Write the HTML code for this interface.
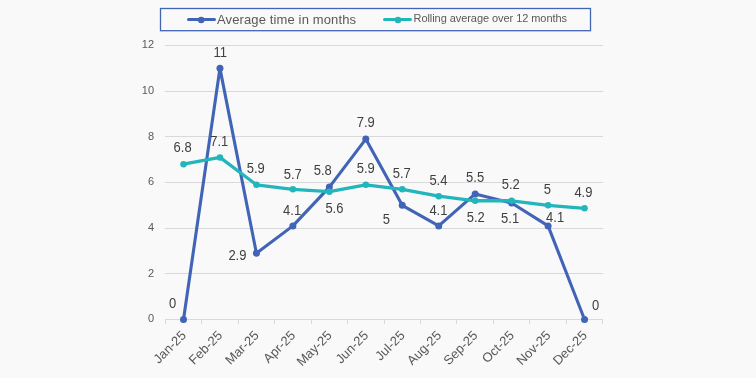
<!DOCTYPE html>
<html><head><meta charset="utf-8"><style>
html,body{margin:0;padding:0;background:#F9F9F9;}
body{width:756px;height:378px;overflow:hidden;}
svg{display:block;will-change:transform;font-family:"Liberation Sans",sans-serif;}
</style></head><body>
<svg width="756" height="378" viewBox="0 0 756 378">
<rect x="0" y="0" width="756" height="378" fill="#F9F9F9"/>
<line x1="165" y1="273.50" x2="603" y2="273.50" stroke="#D9D9D9" stroke-width="1"/>
<line x1="165" y1="228.50" x2="603" y2="228.50" stroke="#D9D9D9" stroke-width="1"/>
<line x1="165" y1="182.50" x2="603" y2="182.50" stroke="#D9D9D9" stroke-width="1"/>
<line x1="165" y1="136.50" x2="603" y2="136.50" stroke="#D9D9D9" stroke-width="1"/>
<line x1="165" y1="91.50" x2="603" y2="91.50" stroke="#D9D9D9" stroke-width="1"/>
<line x1="165" y1="45.50" x2="603" y2="45.50" stroke="#D9D9D9" stroke-width="1"/>
<line x1="165" y1="319.5" x2="603" y2="319.5" stroke="#D9D9D9" stroke-width="1"/>
<line x1="165.50" y1="319.5" x2="165.50" y2="324.0" stroke="#D9D9D9" stroke-width="1"/>
<line x1="201.50" y1="319.5" x2="201.50" y2="324.0" stroke="#D9D9D9" stroke-width="1"/>
<line x1="238.50" y1="319.5" x2="238.50" y2="324.0" stroke="#D9D9D9" stroke-width="1"/>
<line x1="274.50" y1="319.5" x2="274.50" y2="324.0" stroke="#D9D9D9" stroke-width="1"/>
<line x1="311.50" y1="319.5" x2="311.50" y2="324.0" stroke="#D9D9D9" stroke-width="1"/>
<line x1="347.50" y1="319.5" x2="347.50" y2="324.0" stroke="#D9D9D9" stroke-width="1"/>
<line x1="384.50" y1="319.5" x2="384.50" y2="324.0" stroke="#D9D9D9" stroke-width="1"/>
<line x1="420.50" y1="319.5" x2="420.50" y2="324.0" stroke="#D9D9D9" stroke-width="1"/>
<line x1="456.50" y1="319.5" x2="456.50" y2="324.0" stroke="#D9D9D9" stroke-width="1"/>
<line x1="493.50" y1="319.5" x2="493.50" y2="324.0" stroke="#D9D9D9" stroke-width="1"/>
<line x1="529.50" y1="319.5" x2="529.50" y2="324.0" stroke="#D9D9D9" stroke-width="1"/>
<line x1="566.50" y1="319.5" x2="566.50" y2="324.0" stroke="#D9D9D9" stroke-width="1"/>
<line x1="602.50" y1="319.5" x2="602.50" y2="324.0" stroke="#D9D9D9" stroke-width="1"/>
<text x="154.1" y="322.20" text-anchor="end" font-size="11" fill="#595959">0</text>
<text x="154.1" y="276.53" text-anchor="end" font-size="11" fill="#595959">2</text>
<text x="154.1" y="230.87" text-anchor="end" font-size="11" fill="#595959">4</text>
<text x="154.1" y="185.20" text-anchor="end" font-size="11" fill="#595959">6</text>
<text x="154.1" y="139.53" text-anchor="end" font-size="11" fill="#595959">8</text>
<text x="154.1" y="93.87" text-anchor="end" font-size="11" fill="#595959">10</text>
<text x="154.1" y="48.20" text-anchor="end" font-size="11" fill="#595959">12</text>
<text x="186.80" y="336.20" text-anchor="end" font-size="13" fill="#595959" transform="rotate(-45 186.80 336.20)">Jan-25</text>
<text x="223.26" y="336.20" text-anchor="end" font-size="13" fill="#595959" transform="rotate(-45 223.26 336.20)">Feb-25</text>
<text x="259.72" y="336.20" text-anchor="end" font-size="13" fill="#595959" transform="rotate(-45 259.72 336.20)">Mar-25</text>
<text x="296.18" y="336.20" text-anchor="end" font-size="13" fill="#595959" transform="rotate(-45 296.18 336.20)">Apr-25</text>
<text x="332.64" y="336.20" text-anchor="end" font-size="13" fill="#595959" transform="rotate(-45 332.64 336.20)">May-25</text>
<text x="369.10" y="336.20" text-anchor="end" font-size="13" fill="#595959" transform="rotate(-45 369.10 336.20)">Jun-25</text>
<text x="405.56" y="336.20" text-anchor="end" font-size="13" fill="#595959" transform="rotate(-45 405.56 336.20)">Jul-25</text>
<text x="442.02" y="336.20" text-anchor="end" font-size="13" fill="#595959" transform="rotate(-45 442.02 336.20)">Aug-25</text>
<text x="478.48" y="336.20" text-anchor="end" font-size="13" fill="#595959" transform="rotate(-45 478.48 336.20)">Sep-25</text>
<text x="514.94" y="336.20" text-anchor="end" font-size="13" fill="#595959" transform="rotate(-45 514.94 336.20)">Oct-25</text>
<text x="551.40" y="336.20" text-anchor="end" font-size="13" fill="#595959" transform="rotate(-45 551.40 336.20)">Nov-25</text>
<text x="587.86" y="336.20" text-anchor="end" font-size="13" fill="#595959" transform="rotate(-45 587.86 336.20)">Dec-25</text>
<polyline points="183.50,319.50 219.96,68.33 256.42,253.28 292.88,225.88 329.34,187.07 365.80,139.12 402.26,205.33 438.72,225.88 475.18,193.92 511.64,203.05 548.10,225.88 584.56,319.50" fill="none" stroke="#4164B6" stroke-width="3.1" stroke-linejoin="round" stroke-linecap="round"/><circle cx="183.50" cy="319.50" r="3.5" fill="#4164B6"/><circle cx="219.96" cy="68.33" r="3.5" fill="#4164B6"/><circle cx="256.42" cy="253.28" r="3.5" fill="#4164B6"/><circle cx="292.88" cy="225.88" r="3.5" fill="#4164B6"/><circle cx="329.34" cy="187.07" r="3.5" fill="#4164B6"/><circle cx="365.80" cy="139.12" r="3.5" fill="#4164B6"/><circle cx="402.26" cy="205.33" r="3.5" fill="#4164B6"/><circle cx="438.72" cy="225.88" r="3.5" fill="#4164B6"/><circle cx="475.18" cy="193.92" r="3.5" fill="#4164B6"/><circle cx="511.64" cy="203.05" r="3.5" fill="#4164B6"/><circle cx="548.10" cy="225.88" r="3.5" fill="#4164B6"/><circle cx="584.56" cy="319.50" r="3.5" fill="#4164B6"/>
<polyline points="183.50,164.23 219.96,157.38 256.42,184.78 292.88,189.35 329.34,191.63 365.80,184.78 402.26,189.35 438.72,196.20 475.18,200.77 511.64,200.77 548.10,205.33 584.56,208.30" fill="none" stroke="#22B6BC" stroke-width="3.3" stroke-linejoin="round" stroke-linecap="round"/><circle cx="183.50" cy="164.23" r="3.25" fill="#22B6BC"/><circle cx="219.96" cy="157.38" r="3.25" fill="#22B6BC"/><circle cx="256.42" cy="184.78" r="3.25" fill="#22B6BC"/><circle cx="292.88" cy="189.35" r="3.25" fill="#22B6BC"/><circle cx="329.34" cy="191.63" r="3.25" fill="#22B6BC"/><circle cx="365.80" cy="184.78" r="3.25" fill="#22B6BC"/><circle cx="402.26" cy="189.35" r="3.25" fill="#22B6BC"/><circle cx="438.72" cy="196.20" r="3.25" fill="#22B6BC"/><circle cx="475.18" cy="200.77" r="3.25" fill="#22B6BC"/><circle cx="511.64" cy="200.77" r="3.25" fill="#22B6BC"/><circle cx="548.10" cy="205.33" r="3.25" fill="#22B6BC"/><circle cx="584.56" cy="208.30" r="3.25" fill="#22B6BC"/>
<text transform="translate(168.90 308.31) scale(1 1.08)" font-size="13.0" fill="#404040">0</text>
<text transform="translate(173.60 152.11) scale(1 1.08)" font-size="13.0" fill="#404040">6.8</text>
<text transform="translate(213.40 56.91) scale(1 1.08)" font-size="13.0" fill="#404040">11</text>
<text transform="translate(210.20 146.31) scale(1 1.08)" font-size="13.0" fill="#404040">7.1</text>
<text transform="translate(228.40 259.61) scale(1 1.08)" font-size="13.0" fill="#404040">2.9</text>
<text transform="translate(246.70 172.91) scale(1 1.08)" font-size="13.0" fill="#404040">5.9</text>
<text transform="translate(283.70 178.61) scale(1 1.08)" font-size="13.0" fill="#404040">5.7</text>
<text transform="translate(283.10 214.61) scale(1 1.08)" font-size="13.0" fill="#404040">4.1</text>
<text transform="translate(313.70 174.61) scale(1 1.08)" font-size="13.0" fill="#404040">5.8</text>
<text transform="translate(325.40 212.91) scale(1 1.08)" font-size="13.0" fill="#404040">5.6</text>
<text transform="translate(356.70 126.91) scale(1 1.08)" font-size="13.0" fill="#404040">7.9</text>
<text transform="translate(356.70 172.91) scale(1 1.08)" font-size="13.0" fill="#404040">5.9</text>
<text transform="translate(392.70 177.91) scale(1 1.08)" font-size="13.0" fill="#404040">5.7</text>
<text transform="translate(382.70 223.61) scale(1 1.08)" font-size="13.0" fill="#404040">5</text>
<text transform="translate(429.40 184.61) scale(1 1.08)" font-size="13.0" fill="#404040">5.4</text>
<text transform="translate(429.40 214.61) scale(1 1.08)" font-size="13.0" fill="#404040">4.1</text>
<text transform="translate(466.10 182.31) scale(1 1.08)" font-size="13.0" fill="#404040">5.5</text>
<text transform="translate(466.70 222.31) scale(1 1.08)" font-size="13.0" fill="#404040">5.2</text>
<text transform="translate(501.70 188.91) scale(1 1.08)" font-size="13.0" fill="#404040">5.2</text>
<text transform="translate(501.10 222.91) scale(1 1.08)" font-size="13.0" fill="#404040">5.1</text>
<text transform="translate(543.70 193.91) scale(1 1.08)" font-size="13.0" fill="#404040">5</text>
<text transform="translate(546.10 221.91) scale(1 1.08)" font-size="13.0" fill="#404040">4.1</text>
<text transform="translate(574.40 197.31) scale(1 1.08)" font-size="13.0" fill="#404040">4.9</text>
<text transform="translate(591.90 309.91) scale(1 1.08)" font-size="13.0" fill="#404040">0</text>
<rect x="160.5" y="8.5" width="430" height="22.2" fill="none" stroke="#4164B6" stroke-width="1.3"/>
<line x1="188.5" y1="19.5" x2="214.5" y2="19.5" stroke="#4164B6" stroke-width="3" stroke-linecap="round"/>
<circle cx="201.2" cy="20" r="3.3" fill="#4164B6"/>
<text x="217" y="24" font-size="13" fill="#595959" textLength="139" lengthAdjust="spacing">Average time in months</text>
<line x1="384.5" y1="19.5" x2="410.5" y2="19.5" stroke="#22B6BC" stroke-width="3" stroke-linecap="round"/>
<circle cx="398" cy="20" r="3.3" fill="#22B6BC"/>
<text x="413.5" y="22.2" font-size="11" fill="#595959" textLength="153.5" lengthAdjust="spacing">Rolling average over 12 months</text>
</svg>
</body></html>
